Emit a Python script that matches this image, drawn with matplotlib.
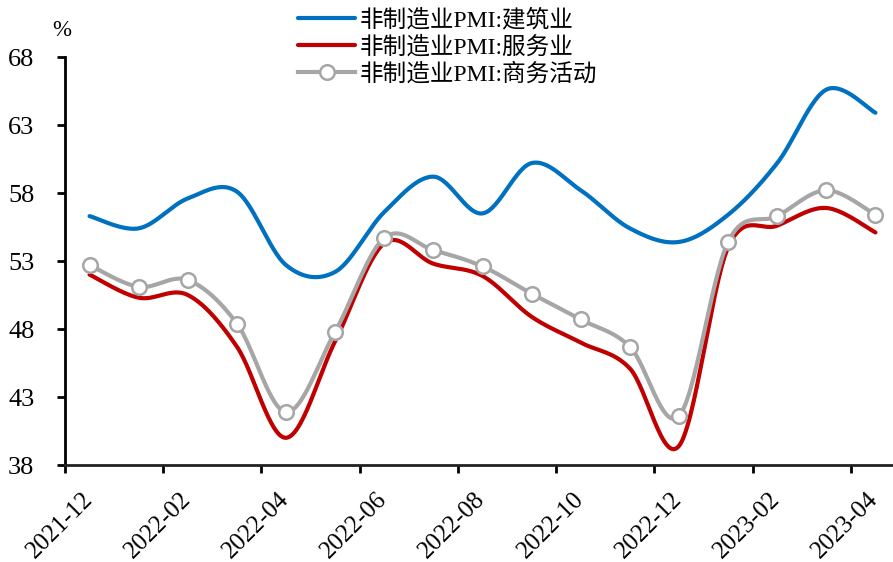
import numpy as np
import matplotlib
matplotlib.use("Agg")
import matplotlib.pyplot as plt

plt.rcParams['font.family'] = ['Liberation Serif', 'Noto Sans CJK SC']
plt.rcParams['axes.unicode_minus'] = False

months = ["2021-12", "2022-01", "2022-02", "2022-03", "2022-04", "2022-05",
          "2022-06", "2022-07", "2022-08", "2022-09", "2022-10", "2022-11",
          "2022-12", "2023-01", "2023-02", "2023-03", "2023-04"]
construction = [56.3, 55.4, 57.6, 58.1, 52.7, 52.2, 56.6, 59.2, 56.5, 60.2,
                58.2, 55.4, 54.4, 56.4, 60.2, 65.6, 63.9]
services = [52.0, 50.3, 50.5, 46.7, 40.0, 47.1, 54.3, 52.8, 51.9, 48.9,
            47.0, 45.1, 39.4, 54.0, 55.6, 56.9, 55.1]
business = [52.7, 51.1, 51.6, 48.4, 41.9, 47.8, 54.7, 53.8, 52.6, 50.6,
            48.7, 46.7, 41.6, 54.4, 56.3, 58.2, 56.4]
labels = ["非制造业PMI:建筑业", "非制造业PMI:服务业", "非制造业PMI:商务活动"]
y_ticks = [38, 43, 48, 53, 58, 63, 68]

BLUE = "#0070C0"
RED = "#C00000"
GREY = "#A6A6A6"


def smooth(x, y, n=30):
    """Parametric Catmull-Rom curve through the points (spreadsheet-style smoothing)."""
    p = np.column_stack([x, y]).astype(float)
    p = np.vstack([p[0], p, p[-1]])
    out = []
    t = np.linspace(0, 1, n, endpoint=False)[:, None]
    for i in range(1, len(p) - 2):
        p0, p1, p2, p3 = p[i - 1], p[i], p[i + 1], p[i + 2]
        c1 = p1 + (p2 - p0) / 6
        c2 = p2 - (p3 - p1) / 6
        seg = ((1 - t) ** 3) * p1 + 3 * ((1 - t) ** 2) * t * c1 \
            + 3 * (1 - t) * t ** 2 * c2 + t ** 3 * p2
        out.append(seg)
    out.append(p[-2][None, :])
    c = np.vstack(out)
    return c[:, 0], c[:, 1]


fig = plt.figure(figsize=(8.93, 5.62), dpi=100)
ax = fig.add_axes([65 / 893, 1 - 465 / 562, (900 - 65) / 893, (465 - 57) / 562])

x = np.arange(len(months)) + 0.5

bx, by = smooth(x, construction)
ax.plot(bx, by, color=BLUE, lw=3, solid_capstyle='round', label=labels[0])
rx, ry = smooth(x, services)
ax.plot(rx, ry, color=RED, lw=3, solid_capstyle='round', label=labels[1])
gx, gy = smooth(x, business)
ax.plot(gx, gy, color=GREY, lw=3, solid_capstyle='round')
ax.plot(x, business, ls='none', marker='o', ms=10.5, mfc='white', mec=GREY, mew=1.8)
ax.plot([], [], color=GREY, lw=3, marker='o', ms=10.5, mfc='white', mec=GREY,
        mew=1.8, label=labels[2])

ax.set_xlim(0, 17)
ax.set_ylim(38, 68)
ax.set_yticks(y_ticks)
ax.set_yticklabels([str(v) for v in y_ticks], fontsize=19)

# Month labels every two months, drawn diagonally below each tick
tick_idx = list(range(0, len(months), 2))
ax.set_xticks(tick_idx)
ax.set_xticklabels([])
for i in tick_idx:
    ax.annotate(months[i], xy=(i, 0), xycoords=ax.get_xaxis_transform(),
                xytext=(17.3, -22.3), textcoords='offset points', fontsize=18,
                rotation=45, ha='right', va='center', rotation_mode='anchor',
                annotation_clip=False)

for side in ('top', 'right'):
    ax.spines[side].set_visible(False)
for side in ('left', 'bottom'):
    ax.spines[side].set_linewidth(2)
ax.spines['bottom'].set_color('#222222')
ax.tick_params(axis='both', direction='out', width=2, length=6, color='black')
ax.tick_params(axis='y', pad=16)

ax.text(62 / 893, 1 - 30 / 562, "%", transform=fig.transFigure,
        fontsize=16.5, ha='center', va='center')

leg = ax.legend(loc='upper left', bbox_to_anchor=(283 / 893, 1.012),
                bbox_transform=fig.transFigure, frameon=False, fontsize=17,
                handlelength=2.4, handletextpad=0.2, labelspacing=0.19,
                borderpad=0.15)

fig.savefig("out.png", dpi=100)
